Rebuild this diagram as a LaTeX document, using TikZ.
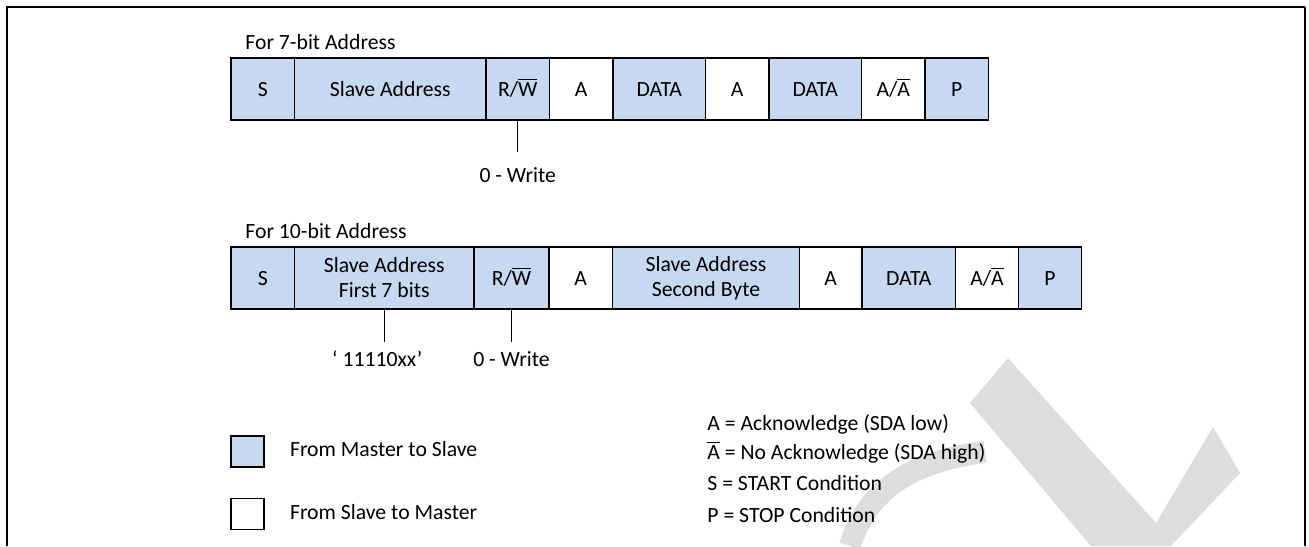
\documentclass[tikz,border=0pt]{standalone}
\usepackage{fontspec}
\setmainfont{Carlito}
\usepackage{xcolor}
\usepackage{tikz}
\usetikzlibrary{positioning}
\definecolor{msblue}{RGB}{198,217,241}
\definecolor{wmgray}{RGB}{221,221,221}
\newcommand{\cellfont}{\fontsize{10.85pt}{12.5pt}\selectfont}
\newcommand{\ovl}[1]{$\overline{\mbox{#1}}$}
\tikzset{
    cell/.style={rectangle, draw=black, line width=0.65pt, minimum height=31pt, inner sep=1pt, outer sep=0pt, align=center, text height=7pt, text depth=0pt, font=\cellfont},
    twoline/.style={text height=, text depth=},
    mscell/.style={cell, fill=msblue},
    smcell/.style={cell, fill=white},
    keybox/.style={rectangle, draw=black, line width=0.65pt, minimum width=16.5pt, minimum height=15.5pt, inner sep=0pt},
    lbl/.style={inner sep=2pt, text height=7.5pt, text depth=2.5pt, font=\cellfont},
    tick/.style={line width=0.65pt}
}

\begin{document}
\begin{tikzpicture}[x=0.5pt, y=-0.5pt, node distance=0pt]
    \useasboundingbox (0,0) rectangle (1309,546);
    % watermark
    \fill [wmgray] (970,403) -- (1008,358) -- (1156,523) -- (1213,427) -- (1240,473) -- (1171,546) -- (1091,546) -- cycle;
    \draw [wmgray, line width=11pt] (850,546) .. controls (865,495) and (905,462) .. (985,452);
    % frame
    \draw [line width=1pt] (7,546) -- (7,7) -- (1305,7);
    \draw [line width=0.7pt] (1305,7) -- (1305,546);

    % 7-bit address
    \node (s1) [mscell, minimum width=31.75pt] at (262.75,89) {S};
    \node (sa1) [mscell, minimum width=95.75pt, right=of s1] {Slave Address};
    \node (rw1) [mscell, minimum width=31.75pt, right=of sa1] {R/\ovl{W}};
    \node (a1) [smcell, minimum width=31.75pt, right=of rw1] {A};
    \node (d1) [mscell, minimum width=46.25pt, right=of a1] {DATA};
    \node (a1b) [smcell, minimum width=31.75pt, right=of d1] {A};
    \node (d1b) [mscell, minimum width=46.25pt, right=of a1b] {DATA};
    \node (na1) [smcell, minimum width=31.75pt, right=of d1b] {A/\ovl{A}};
    \node (p1) [mscell, minimum width=31.75pt, right=of na1] {P};
    \node (t7) [lbl, anchor=base west, xshift=5pt, yshift=4.5pt] at (s1.north west) {For 7-bit Address};
    \node (w1) [lbl, below=21.5pt of rw1] {0 - Write};
    \draw [tick, shorten >=5.5pt] (rw1) -- (w1);

    % 10-bit address
    \node (s2) [mscell, minimum width=31.75pt] at (262.75,278) {S};
    \node (sa2) [mscell, twoline, minimum width=89.75pt, right=of s2] {Slave Address\\First 7 bits};
    \node (rw2) [mscell, minimum width=37.5pt, right=of sa2] {R/\ovl{W}};
    \node (a2) [smcell, minimum width=31.75pt, right=of rw2] {A};
    \node (sb2) [mscell, twoline, minimum width=93.5pt, right=of a2] {Slave Address\\Second Byte};
    \node (a2b) [smcell, minimum width=31.25pt, right=of sb2] {A};
    \node (d2) [mscell, minimum width=46.75pt, right=of a2b] {DATA};
    \node (na2) [smcell, minimum width=31.5pt, right=of d2] {A/\ovl{A}};
    \node (p2) [mscell, minimum width=31.5pt, right=of na2] {P};
    \node (t10) [lbl, anchor=base west, xshift=5pt, yshift=4.5pt] at (s2.north west) {For 10-bit Address};
    \node (w2) [lbl, below=19pt of rw2] {0 - Write};
    \node (bits) [lbl, below=19pt of sa2, xshift=-3.5pt] {‘\ 11110xx’};
    \draw [tick, shorten >=2.5pt] (rw2) -- (w2);
    \draw [tick, shorten >=2.5pt] (sa2) -- (sa2 |- bits.north);

    % legend
    \node (kms) [keybox, fill=msblue] at (247.5,451.5) {};
    \node (kms_t) [lbl, anchor=west, right=10.5pt of kms] {From Master to Slave};
    \node (ksm) [keybox, fill=white] at (247.5,514) {};
    \node (ksm_t) [lbl, anchor=west, right=10.5pt of ksm] {From Slave to Master};

    \node (ka) [lbl, anchor=base west] at (703,430) {A = Acknowledge (SDA low)};
    \node (kn) [lbl, anchor=base west] at (703,459) {\ovl{A} = No Acknowledge (SDA high)};
    \node (ks) [lbl, anchor=base west] at (703,490) {S = START Condition};
    \node (kp) [lbl, anchor=base west] at (703,522) {P = STOP Condition};
\end{tikzpicture}
\end{document}
